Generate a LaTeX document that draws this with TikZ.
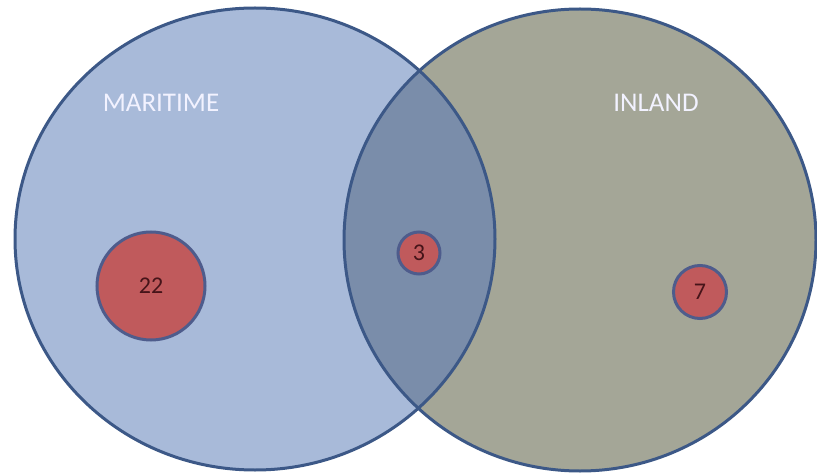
\documentclass[tikz,border=0pt]{standalone}
\usepackage{fontspec}
\setmainfont{Carlito}
\definecolor{leftfill}{RGB}{168,186,217}
\definecolor{rightfill}{RGB}{164,166,151}
\definecolor{midfill}{RGB}{122,141,170}
\definecolor{rim}{RGB}{60,88,135}
\definecolor{dotfill}{RGB}{192,90,92}
\definecolor{dotrim}{RGB}{78,92,140}
\definecolor{numcol}{RGB}{70,20,25}
\begin{document}
\begin{tikzpicture}[x=1pt,y=-1pt,
  setlabel/.style={text=white!95!blue, font=\fontsize{27}{27}\selectfont},
  dot/.style={circle, fill=dotfill, draw=dotrim, line width=3pt, inner sep=0pt, text=numcol, font=\fontsize{24}{24}\selectfont}]
\useasboundingbox (0,0) rectangle (817,473);
\fill[white] (0,0) rectangle (817,473);
\fill[leftfill] (255,239) ellipse [x radius=240, y radius=231];
\fill[rightfill] (580,240) ellipse [x radius=236, y radius=231];
\begin{scope}
  \clip (255,239) ellipse [x radius=240, y radius=231];
  \fill[midfill] (580,240) ellipse [x radius=236, y radius=231];
\end{scope}
\draw[rim, line width=3pt] (255,239) ellipse [x radius=240, y radius=231];
\draw[rim, line width=3pt] (580,240) ellipse [x radius=236, y radius=231];
\node[setlabel] (maritime) at (161,103) {MARITIME};
\node[setlabel] (inland) at (656,103) {INLAND};
\node[dot, minimum size=108pt] (a) at (151,286) {22};
\node[dot, minimum size=42pt] (b) at (419,253) {3};
\node[dot, minimum size=53pt] (c) at (700,292) {7};
\end{tikzpicture}
\end{document}
